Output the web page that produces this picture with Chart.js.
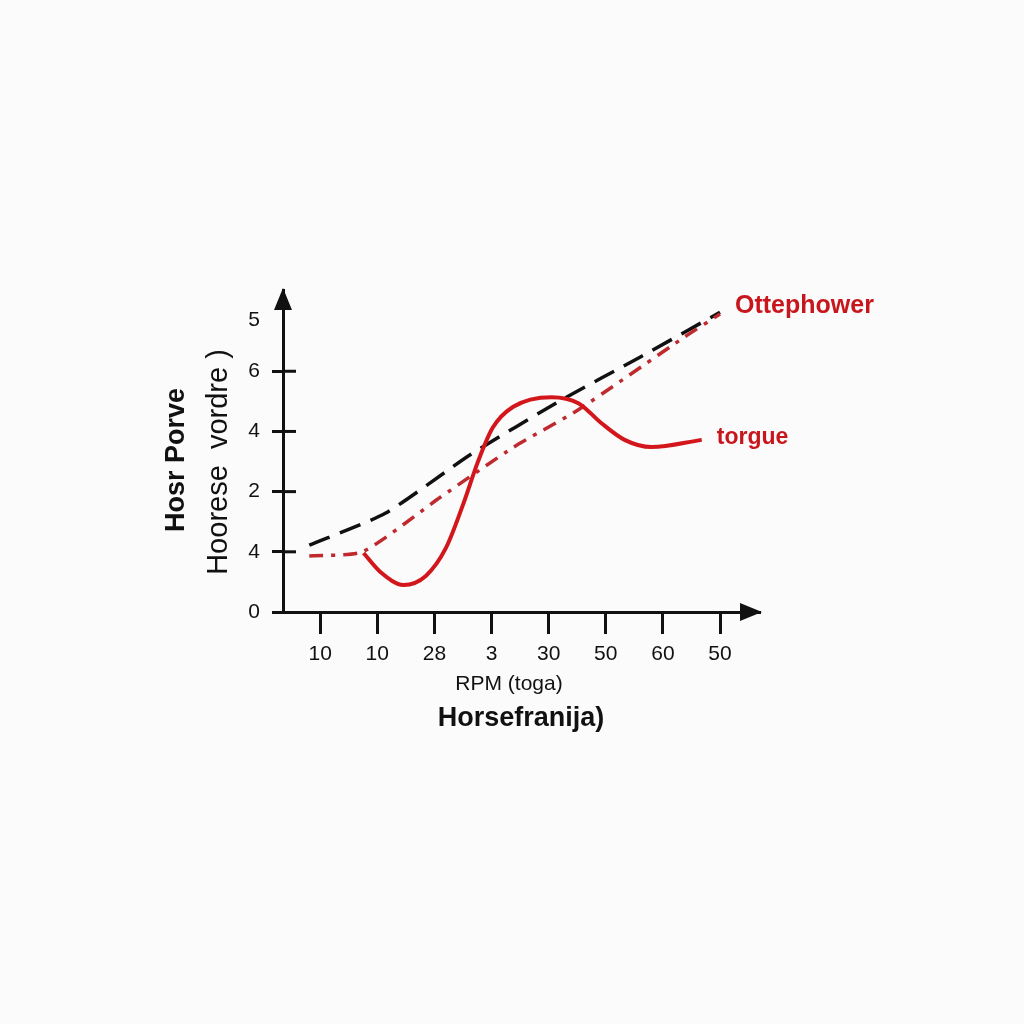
<!DOCTYPE html>
<html>
<head>
<meta charset="utf-8">
<script src="https://cdn.jsdelivr.net/npm/chart.js@4/dist/chart.umd.min.js"></script>
<style>
  html, body { margin: 0; padding: 0; background: #fbfbfb; }
  #wrap { width: 1024px; height: 1024px; }
</style>
</head>
<body>
<div id="wrap"><canvas id="c" width="1024" height="1024"></canvas></div>
<script>
// ---- data ----
const xTickValues = [0, 1, 2, 3, 4, 5, 6, 7];
const xTickLabels = ["10", "10", "28", "3", "30", "50", "60", "50"];
const yTickValues = [0, 1, 2, 3, 4, 4.85];
const yTickLabels = ["0", "4", "2", "4", "6", "5"];

const horsepowerX = [-0.19, 1.14, 2.64, 4.22, 5.63, 7.0];
const horsepowerY = [1.11, 1.64, 2.62, 3.52, 4.25, 4.98];

const otherX = [-0.19, 0.74, 2.11, 3.39, 4.52, 6.38, 7.0];
const otherY = [0.93, 1.0, 1.91, 2.74, 3.36, 4.57, 4.95];

const torqueX = [0.76, 1.06, 1.46, 1.85, 2.20, 2.50, 2.76, 3.02, 3.38, 4.05, 4.52, 4.92, 5.33, 5.80, 6.68];
const torqueY = [0.98, 0.66, 0.45, 0.60, 1.06, 1.78, 2.49, 3.06, 3.41, 3.57, 3.47, 3.14, 2.86, 2.74, 2.86];

const seriesNames = ["Ottephower", "torgue"];
const yTitleBold = "Hosr Porve";
const yTitleNormal = "Hoorese  vordre )";
const xTitleSmall = "RPM (toga)";
const xTitleBold = "Horsefranija)";

const pts = (xs, ys) => xs.map((x, i) => ({ x: x, y: ys[i] }));

const AXIS = '#111111';
const RED = '#c8161d';
const FONT = '"Liberation Sans", Arial, sans-serif';

const decor = {
  id: 'decor',
  afterDraw(chart) {
    const ctx = chart.ctx;
    const xs = chart.scales.x, ys = chart.scales.y;
    const area = chart.chartArea;
    const x0 = area.left, y0 = area.bottom;
    ctx.save();
    ctx.fillStyle = AXIS;
    ctx.strokeStyle = AXIS;
    // arrow heads
    ctx.beginPath();
    ctx.moveTo(x0, area.top - 2);
    ctx.lineTo(x0 - 9, area.top + 20);
    ctx.lineTo(x0 + 9, area.top + 20);
    ctx.closePath();
    ctx.fill();
    ctx.beginPath();
    ctx.moveTo(area.right + 2, y0);
    ctx.lineTo(area.right - 20, y0 - 9);
    ctx.lineTo(area.right - 20, y0 + 9);
    ctx.closePath();
    ctx.fill();
    // inner parts of y ticks
    ctx.lineWidth = 3;
    for (let i = 1; i < yTickValues.length - 1; i++) {
      const py = ys.getPixelForValue(yTickValues[i]);
      ctx.beginPath();
      ctx.moveTo(x0, py);
      ctx.lineTo(x0 + 13, py);
      ctx.stroke();
    }
    // series labels
    ctx.fillStyle = RED;
    ctx.textBaseline = 'middle';
    ctx.textAlign = 'left';
    ctx.font = 'bold 25px ' + FONT;
    const hx = xs.getPixelForValue(horsepowerX[horsepowerX.length - 1]);
    const hy = ys.getPixelForValue(horsepowerY[horsepowerY.length - 1]);
    ctx.fillText(seriesNames[0], hx + 15, hy - 6);
    ctx.font = 'bold 23px ' + FONT;
    const tx = xs.getPixelForValue(torqueX[torqueX.length - 1]);
    const ty = ys.getPixelForValue(torqueY[torqueY.length - 1]);
    ctx.fillText(seriesNames[1], tx + 15, ty - 2);
    // axis titles
    ctx.fillStyle = AXIS;
    ctx.textAlign = 'center';
    ctx.font = '21px ' + FONT;
    ctx.fillText(xTitleSmall, 509, 684);
    ctx.font = 'bold 27px ' + FONT;
    ctx.fillText(xTitleBold, 521, 719);
    ctx.save();
    ctx.translate(177, 460);
    ctx.rotate(-Math.PI / 2);
    ctx.font = 'bold 27px ' + FONT;
    ctx.fillText(yTitleBold, 0, 0);
    ctx.restore();
    ctx.save();
    ctx.translate(219, 462);
    ctx.rotate(-Math.PI / 2);
    ctx.font = '29px ' + FONT;
    ctx.fillText(yTitleNormal, 0, 0);
    ctx.restore();
    ctx.restore();
  }
};

new Chart(document.getElementById('c'), {
  type: 'line',
  data: {
    datasets: [
      {
        label: seriesNames[1],
        data: pts(torqueX, torqueY),
        borderColor: '#d2161c',
        borderWidth: 4,
        cubicInterpolationMode: 'monotone',
        pointRadius: 0,
        order: 0
      },
      {
        label: 'red dash',
        data: pts(otherX, otherY),
        borderColor: '#bf2a2e',
        borderWidth: 3.5,
        borderDash: [14, 8, 4, 8],
        tension: 0.2,
        pointRadius: 0,
        order: 1
      },
      {
        label: seriesNames[0],
        data: pts(horsepowerX, horsepowerY),
        borderColor: '#111111',
        borderWidth: 3.5,
        borderDash: [22, 11],
        tension: 0.2,
        pointRadius: 0,
        order: 2
      }
    ]
  },
  options: {
    responsive: false,
    animation: false,
    events: [],
    layout: { padding: { left: 213, right: 264, top: 290, bottom: 352 } },
    plugins: { legend: { display: false }, tooltip: { enabled: false } },
    scales: {
      x: {
        type: 'linear',
        min: -0.65,
        max: 7.7,
        afterBuildTicks: s => { s.ticks = xTickValues.map(v => ({ value: v })); },
        afterFit: s => { s.height = 60; },
        ticks: {
          callback: (v, i) => xTickLabels[i],
          autoSkip: false,
          maxRotation: 0,
          color: AXIS,
          padding: 8,
          font: { family: FONT, size: 21 }
        },
        grid: { drawOnChartArea: false, drawTicks: true, tickLength: 22, tickWidth: 3, tickColor: AXIS },
        border: { color: AXIS, width: 3 }
      },
      y: {
        type: 'linear',
        min: 0,
        max: 5.35,
        afterBuildTicks: s => { s.ticks = yTickValues.map(v => ({ value: v })); },
        afterFit: s => { s.width = 70; },
        ticks: {
          callback: (v, i) => yTickLabels[i],
          autoSkip: false,
          color: AXIS,
          padding: 12,
          font: { family: FONT, size: 21 }
        },
        grid: {
          drawOnChartArea: false,
          drawTicks: true,
          tickLength: 11,
          tickWidth: 3,
          tickColor: c => (c.index === yTickValues.length - 1 ? 'rgba(0,0,0,0)' : AXIS)
        },
        border: { color: AXIS, width: 3 }
      }
    }
  },
  plugins: [decor]
});
</script>
</body>
</html>
